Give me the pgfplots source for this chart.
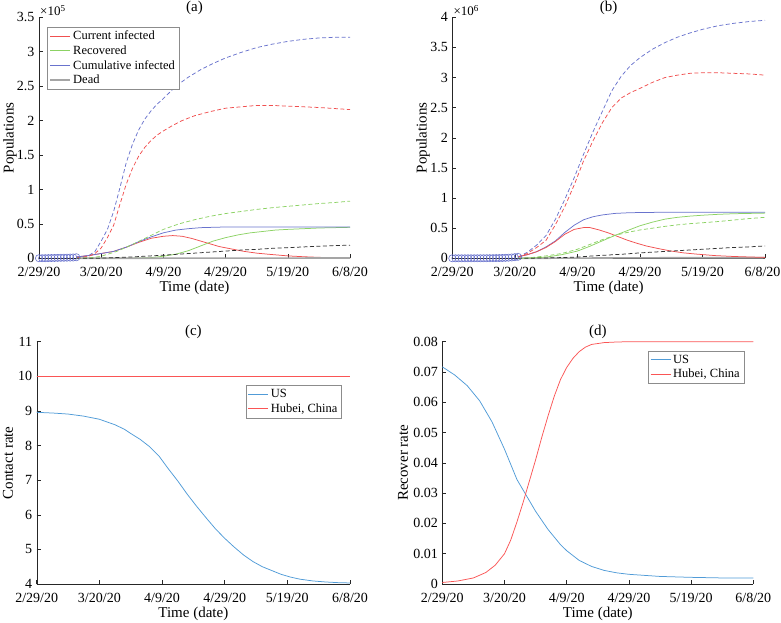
\documentclass[border=0pt]{standalone}
\usepackage{fontspec}
\setmainfont{Liberation Serif}
\usepackage{pgfplots}
\pgfplotsset{compat=1.18}

\definecolor{cred}{RGB}{240,80,80}
\definecolor{cgreen}{RGB}{140,210,100}
\definecolor{cblue}{RGB}{105,115,205}
\definecolor{cdead}{RGB}{165,165,165}
\definecolor{cblack}{RGB}{50,50,50}
\definecolor{mblue}{RGB}{80,155,215}
\definecolor{mred}{RGB}{250,85,85}

\pgfplotsset{
  matlab/.style={
    scale only axis,
    axis x line*=bottom, axis y line*=left,
    axis line style={-, black!85},
    tick style={black!85, line width=0.5pt},
    tick align=inside, major tick length=4pt,
    xmin=0, xmax=100,
    xtick={0,20,...,100},
    xticklabels={2/29/20,3/20/20,4/9/20,4/29/20,5/19/20,6/8/20},
    scaled y ticks=false,
    ticklabel style={font=\fontsize{14}{16}\selectfont},
    xticklabel style={yshift=-5.5pt},
    yticklabel style={xshift=-1pt},
    /pgf/number format/assume math mode=true,
    label style={font=\fontsize{15}{17}\selectfont},
    title style={font=\fontsize{15}{17}\selectfont, yshift=-7pt},
    xlabel={Time (date)},
    xlabel style={yshift=2.5pt},
    legend cell align=left,
    legend style={font=\fontsize{12.5}{14}\selectfont, draw=black!45,
      inner sep=2pt, row sep=0.5pt},
    legend image code/.code={\draw[#1] (0pt,0pt) -- (20pt,0pt);},
    clip=false,
    every axis plot/.append style={line width=0.75pt},
  },
  dsh/.style={dash pattern=on 4pt off 2.5pt},
  obs/.style={only marks, mark=o, mark size=3.6pt, cblue,
    mark options={fill=white, line width=0.6pt}},
}

\begin{document}
\begin{tikzpicture}
\useasboundingbox (0,0) rectangle (781pt,622pt);

% (a)
\begin{axis}[matlab, at={(39pt,363.7pt)}, anchor=south west,
  width=311pt, height=241pt, title={(a)}, ylabel={Populations},
  ylabel style={at={(axis description cs:-0.093,0.5)}, anchor=center},
  ymin=0, ymax=350000, ytick={0,50000,...,350000},
  yticklabels={0,0.5,1,1.5,2,2.5,3,3.5},
  legend style={at={(axis description cs:0.027,0.961)}, anchor=north west}]
\addplot[cred] coordinates {(12,2000)(16,4000)(20,7000)(24,10000)(28,16000)(32,23000)(36,29000)(40,32000)(43,33000)(46,32000)(49,29000)(52,25000)(55,21000)(58,17000)(62,13500)(66,10000)(70,7500)(74,5800)(80,3500)(85,2300)(90,1400)(95,900)(100,500)};
\addlegendentry{Current infected}
\addplot[cgreen] coordinates {(12,0)(30,200)(36,1000)(40,3000)(44,6000)(48,11000)(52,18000)(56,25000)(60,30000)(64,34000)(68,37000)(72,39000)(76,41000)(80,42000)(85,43000)(90,44000)(95,44500)(100,45000)};
\addlegendentry{Recovered}
\addplot[cblue] coordinates {(12,2000)(16,4000)(20,7000)(24,10000)(28,16000)(32,24000)(36,31000)(40,37000)(44,41000)(48,43000)(52,44500)(56,45000)(60,45500)(70,45500)(80,45500)(100,45500)};
\addlegendentry{Cumulative infected}
\addplot[cdead, line width=1.6pt] coordinates {(12,0)(40,150)(60,300)(100,400)};
\addlegendentry{Dead}
\addplot[cblue, dsh, forget plot] coordinates {(12,1000)(16,4000)(18,10000)(20,25000)(22,42000)(24,68000)(26,102000)(28,138000)(30,165000)(32,186000)(34,202000)(36,214000)(38,224000)(40,232000)(44,250000)(48,263000)(52,274000)(56,283000)(60,291000)(65,299000)(70,306000)(75,311000)(80,315000)(85,318000)(90,320000)(95,321000)(100,321000)};
\addplot[cred, dsh, forget plot] coordinates {(12,500)(16,3000)(18,7000)(20,15000)(22,30000)(24,48000)(26,78000)(28,107000)(30,130000)(32,148000)(34,161000)(36,171000)(38,179000)(40,185000)(43,193000)(46,200000)(50,207000)(55,213000)(60,218000)(65,220000)(70,222000)(75,222000)(80,221000)(85,220000)(90,219000)(95,217500)(100,216000)};
\addplot[cgreen, dsh, forget plot] coordinates {(12,0)(17,1000)(20,3000)(25,10000)(30,20000)(35,31000)(40,42000)(45,50000)(50,56000)(55,61000)(60,65000)(65,68000)(70,71000)(75,73500)(80,75500)(85,77500)(90,79500)(95,81000)(100,83000)};
\addplot[cblack, dsh, forget plot] coordinates {(12,0)(20,200)(30,2000)(40,4500)(45,6000)(50,7500)(55,9000)(60,10500)(65,12000)(70,13000)(75,14500)(80,15500)(85,16500)(90,17500)(95,18500)(100,19000)};
\addplot[obs, forget plot] coordinates {(0,100)(1,150)(2,200)(3,300)(4,400)(5,500)(6,600)(7,700)(8,800)(9,900)(10,1000)(11,1200)(12,1500)};
\node[anchor=south west, font=\fontsize{13}{15}\selectfont, inner sep=1pt] at (rel axis cs:0,1) {×10\textsuperscript{5}};
\end{axis}

% (b)
\begin{axis}[matlab, at={(452.3pt,363.7pt)}, anchor=south west,
  width=312.7pt, height=241pt, title={(b)}, ylabel={Populations},
  ylabel style={at={(axis description cs:-0.094,0.5)}, anchor=center},
  xticklabels={2/29/20,3/20/20,4/9/20,4/29/20,5/19/20,\hspace*{-5pt}6/8/20},
  ymin=0, ymax=4000000, ytick={0,500000,...,4000000},
  yticklabels={0,0.5,1,1.5,2,2.5,3,3.5,4}]
\addplot[cdead, line width=1.6pt] coordinates {(21,0)(40,3000)(60,8000)(100,10000)};
\addplot[cblue] coordinates {(21,25000)(24,60000)(27,110000)(30,190000)(33,290000)(36,430000)(39,550000)(42,640000)(45,690000)(48,720000)(52,745000)(56,755000)(60,760000)(70,765000)(100,765000)};
\addplot[cred] coordinates {(21,25000)(24,60000)(27,110000)(30,180000)(33,280000)(36,400000)(39,480000)(42,510000)(44,510000)(47,470000)(50,420000)(53,360000)(56,300000)(59,250000)(62,205000)(66,160000)(70,120000)(74,90000)(78,70000)(84,45000)(90,30000)(95,22000)(100,15000)};
\addplot[cgreen] coordinates {(21,0)(25,5000)(30,20000)(35,60000)(40,120000)(44,200000)(48,290000)(52,380000)(56,460000)(60,540000)(64,600000)(68,650000)(72,680000)(76,700000)(80,715000)(85,730000)(90,740000)(95,745000)(100,750000)};
\addplot[cgreen, dsh] coordinates {(21,0)(25,10000)(30,40000)(35,80000)(40,150000)(44,230000)(48,310000)(52,380000)(56,430000)(60,470000)(64,500000)(68,530000)(72,555000)(76,575000)(80,590000)(85,610000)(90,635000)(95,660000)(100,680000)};
\addplot[cblue, dsh] coordinates {(21,20000)(24,100000)(27,220000)(30,380000)(33,650000)(36,980000)(39,1340000)(42,1730000)(45,2100000)(48,2440000)(51,2780000)(54,3020000)(57,3200000)(60,3330000)(64,3470000)(68,3580000)(72,3670000)(76,3740000)(80,3800000)(85,3860000)(90,3900000)(95,3930000)(100,3950000)};
\addplot[cred, dsh] coordinates {(21,20000)(24,80000)(27,180000)(30,300000)(33,560000)(36,860000)(39,1220000)(42,1620000)(45,1950000)(48,2250000)(51,2500000)(54,2660000)(57,2750000)(60,2820000)(64,2920000)(68,3000000)(72,3040000)(76,3070000)(80,3080000)(85,3080000)(90,3070000)(95,3060000)(100,3040000)};
\addplot[cblack, dsh] coordinates {(21,0)(30,5000)(40,20000)(45,40000)(50,55000)(55,70000)(60,90000)(65,105000)(70,120000)(75,135000)(80,150000)(85,165000)(90,180000)(95,190000)(100,205000)};
\addplot[obs] coordinates {(0,100)(1,150)(2,200)(3,300)(4,400)(5,500)(6,700)(7,900)(8,1100)(9,1300)(10,1600)(11,1900)(12,2300)(13,2800)(14,3400)(15,4200)(16,5500)(17,7500)(18,10000)(19,14000)(20,19000)(21,25000)};
\node[anchor=south west, font=\fontsize{13}{15}\selectfont, inner sep=1pt] at (rel axis cs:0,1) {×10\textsuperscript{6}};
\end{axis}

% (c)
\begin{axis}[matlab, at={(36.7pt,38pt)}, anchor=south west,
  width=313.3pt, height=242.3pt, title={(c)}, ylabel={Contact rate},
  ylabel style={at={(axis description cs:-0.092,0.5)}, anchor=center},
  ymin=4, ymax=11, ytick={4,5,...,11},
  legend style={at={(axis description cs:0.9735,0.821)}, anchor=north east}]
\addplot[mblue] coordinates {(0,8.96)(5,8.94)(10,8.91)(15,8.85)(20,8.76)(25,8.60)(28,8.47)(30,8.35)(33,8.18)(36,7.97)(39,7.70)(42,7.33)(45,6.98)(48,6.60)(51,6.25)(54,5.92)(57,5.60)(60,5.32)(63,5.07)(66,4.84)(69,4.65)(72,4.50)(75,4.39)(78,4.28)(81,4.20)(84,4.14)(88,4.09)(92,4.06)(96,4.04)(100,4.03)};
\addlegendentry{US}
\addplot[mred] coordinates {(0,10)(100,10)};
\addlegendentry{Hubei, China}
\end{axis}

% (d)
\begin{axis}[matlab, at={(442.3pt,38pt)}, anchor=south west,
  width=311pt, height=242.3pt, title={(d)}, ylabel={Recover rate},
  ylabel style={at={(axis description cs:-0.126,0.5)}, anchor=center},
  ymin=0, ymax=0.08, ytick={0,0.01,...,0.08},
  yticklabel style={/pgf/number format/fixed, /pgf/number format/precision=2},
  legend style={at={(axis description cs:0.970,0.963)}, anchor=north east}]
\addplot[mblue] coordinates {(0,0.0717)(4,0.069)(8,0.0655)(12,0.0605)(16,0.0535)(20,0.0445)(22,0.0395)(24,0.0345)(26,0.031)(28,0.0275)(30,0.024)(32,0.021)(34,0.018)(36,0.0155)(38,0.013)(40,0.011)(44,0.0078)(48,0.0058)(52,0.0045)(56,0.0037)(60,0.0032)(70,0.0025)(80,0.0022)(90,0.002)(100,0.002)};
\addlegendentry{US}
\addplot[mred] coordinates {(0,0.0005)(5,0.001)(10,0.002)(14,0.0038)(17,0.0062)(20,0.010)(22,0.0145)(24,0.0205)(26,0.027)(28,0.034)(30,0.041)(32,0.0485)(34,0.0555)(36,0.062)(38,0.0675)(40,0.0715)(42,0.0745)(44,0.0767)(46,0.0782)(48,0.0791)(52,0.0797)(56,0.0799)(60,0.08)(100,0.08)};
\addlegendentry{Hubei, China}
\end{axis}
\end{tikzpicture}
\end{document}
